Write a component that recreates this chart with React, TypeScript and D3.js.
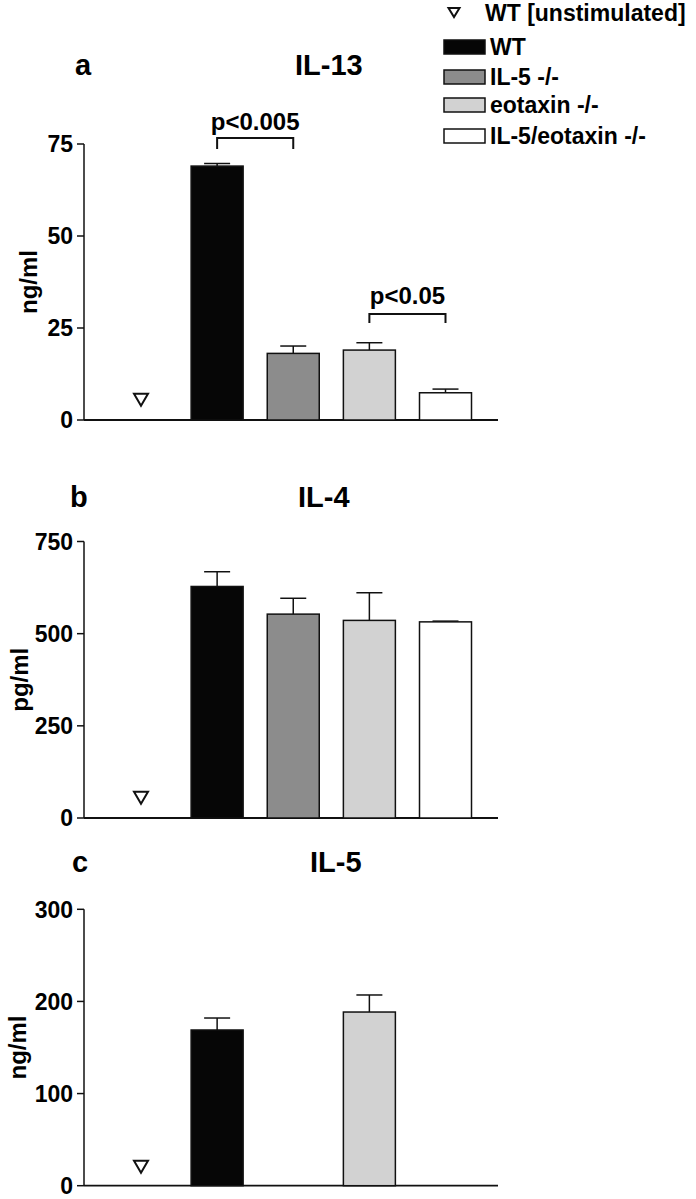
import React from "react";
import * as d3 from "d3";

const groups = ["WT [unstimulated]", "WT", "IL-5 -/-", "eotaxin -/-", "IL-5/eotaxin -/-"];
const fills = ["none", "#060606", "#8c8c8c", "#d2d2d2", "#ffffff"];

// IL-13 (ng/ml)
const il13Mean = [null, 69.0, 18.1, 19.0, 7.4];
const il13Err = [null, 0.7, 2.0, 2.0, 1.0];
const il13Unstim = 5.5;
const il13Ticks = [0, 25, 50, 75];

// IL-4 (pg/ml)
const il4Mean = [null, 628, 553, 536, 532];
const il4Err = [null, 40, 43, 75, 2];
const il4Unstim = 55;
const il4Ticks = [0, 250, 500, 750];

// IL-5 (ng/ml)
const il5Mean = [null, 169, null, 188.5, null];
const il5Err = [null, 13, null, 18.5, null];
const il5Unstim = 20.5;
const il5Ticks = [0, 100, 200, 300];

const panels = [
  { letter: "a", title: "IL-13", unit: "ng/ml", mean: il13Mean, err: il13Err, unstim: il13Unstim, ticks: il13Ticks, max: 75,
    y0: 420, y1: 144, letterX: 75, titleX: 295, titleY: 75, unitX: 37,
    sig: [{ a: 1, b: 2, text: "p<0.005", y: 138, drop: 11, ty: 130 }, { a: 3, b: 4, text: "p<0.05", y: 314, drop: 9, ty: 304 }] },
  { letter: "b", title: "IL-4", unit: "pg/ml", mean: il4Mean, err: il4Err, unstim: il4Unstim, ticks: il4Ticks, max: 750,
    y0: 818, y1: 541.5, letterX: 70, titleX: 298, titleY: 507, unitX: 28, sig: [] },
  { letter: "c", title: "IL-5", unit: "ng/ml", mean: il5Mean, err: il5Err, unstim: il5Unstim, ticks: il5Ticks, max: 300,
    y0: 1185.7, y1: 909.3, letterX: 72, titleX: 310, titleY: 872, unitX: 26, sig: [] },
];

const FONT = "'Liberation Sans', Arial, Helvetica, sans-serif";
const AXIS_X = 84;
const AXIS_END = 498;
const BAR_W = 52;
const CAP_W = 26;

const x = d3.scalePoint<string>().domain(groups).range([141, 445.5]);

function tri(cx: number, cy: number, w: number, h: number) {
  return `M${cx - w / 2},${cy - h / 2}L${cx + w / 2},${cy - h / 2}L${cx},${cy + h / 2}Z`;
}

function Panel({ p }: { p: any }) {
  const y = d3.scaleLinear().domain([0, p.max]).range([p.y0, p.y1]);
  const midY = (p.y0 + p.y1) / 2;
  return (
    <g>
      <text x={p.letterX} y={p.titleY} fontSize={29} fontWeight="bold" fontFamily={FONT}>{p.letter}</text>
      <text x={p.titleX} y={p.titleY} fontSize={29} fontWeight="bold" fontFamily={FONT}>{p.title}</text>
      <text transform={`translate(${p.unitX},${midY}) rotate(-90)`} textAnchor="middle" fontSize={24} fontWeight="bold" fontFamily={FONT}>{p.unit}</text>
      <line x1={AXIS_X} x2={AXIS_X} y1={y(p.max)} y2={y(0)} stroke="#111" strokeWidth={1.5} />
      <line x1={AXIS_X} x2={AXIS_END} y1={y(0)} y2={y(0)} stroke="#111" strokeWidth={1.8} />
      {p.ticks.map((t: number) => (
        <g key={t}>
          <line x1={AXIS_X - 7} x2={AXIS_X} y1={y(t)} y2={y(t)} stroke="#111" strokeWidth={1.5} />
          <text x={AXIS_X - 11} y={y(t)} dy="0.36em" textAnchor="end" fontSize={23} fontWeight="bold" fontFamily={FONT}>{t}</text>
        </g>
      ))}
      {groups.map((g, i) => {
        const m = p.mean[i];
        if (m == null) return null;
        const cx = x(g)!;
        const e = p.err[i];
        return (
          <g key={g}>
            <line x1={cx} x2={cx} y1={y(m)} y2={y(m + e)} stroke="#111" strokeWidth={1.5} />
            <line x1={cx - CAP_W / 2} x2={cx + CAP_W / 2} y1={y(m + e)} y2={y(m + e)} stroke="#111" strokeWidth={1.5} />
            <rect x={cx - BAR_W / 2} y={y(m)} width={BAR_W} height={y(0) - y(m)} fill={fills[i]} stroke="#111" strokeWidth={1.5} />
          </g>
        );
      })}
      <path d={tri(x(groups[0])!, y(p.unstim), 14, 12)} fill="none" stroke="#111" strokeWidth={2} />
      {p.sig.map((s: any) => {
        const xa = x(groups[s.a])!;
        const xb = x(groups[s.b])!;
        return (
          <g key={s.text}>
            <path d={`M${xa},${s.y + s.drop}V${s.y}H${xb}V${s.y + s.drop}`} fill="none" stroke="#111" strokeWidth={2} />
            <text x={(xa + xb) / 2} y={s.ty} textAnchor="middle" fontSize={24} fontWeight="bold" fontFamily={FONT}>{s.text}</text>
          </g>
        );
      })}
    </g>
  );
}

function Legend() {
  const rows = [47, 77, 105, 136];
  return (
    <g fontFamily={FONT} fontWeight="bold" fontSize={23}>
      <path d={tri(454, 12.5, 11, 9)} fill="none" stroke="#111" strokeWidth={2} />
      <text x={485} y={21}>{groups[0]}</text>
      {groups.slice(1).map((g, i) => (
        <g key={g}>
          <rect x={444} y={rows[i] - 7} width={41} height={14} fill={fills[i + 1]} stroke="#111" strokeWidth={1.5} />
          <text x={490} y={rows[i]} dy="0.36em">{g}</text>
        </g>
      ))}
    </g>
  );
}

export default function App() {
  return (
    <svg width={696} height={1199} style={{ position: "absolute", left: 0, top: 0, background: "#fff" }}>
      <rect width={696} height={1199} fill="#fff" />
      {panels.map((p) => <Panel key={p.letter} p={p} />)}
      <Legend />
    </svg>
  );
}
